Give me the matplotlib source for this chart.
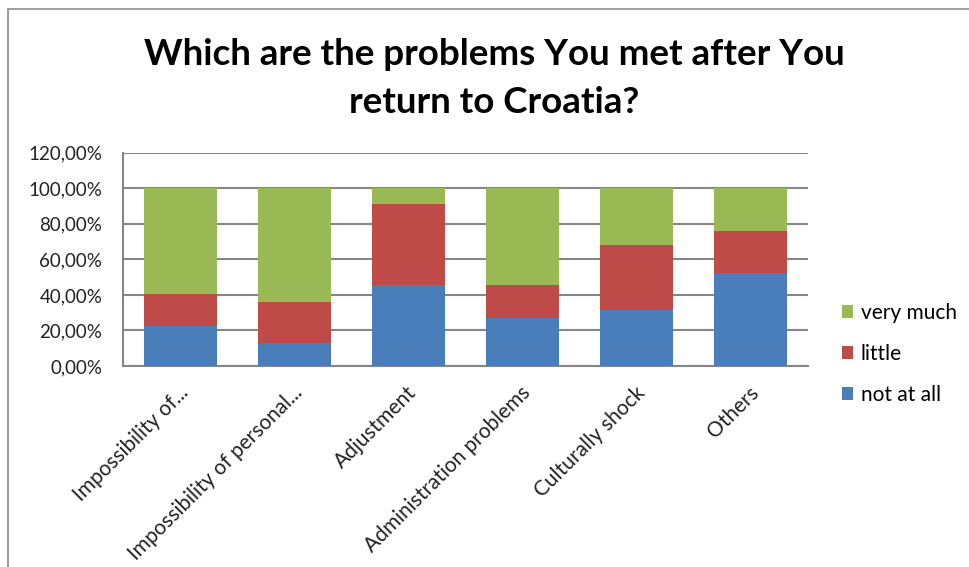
import numpy as np
import matplotlib.pyplot as plt
from matplotlib.patches import Rectangle
from matplotlib.ticker import FuncFormatter
from matplotlib.transforms import ScaledTranslation

# survey answers, share of respondents per problem
categories = ["Impossibility of...", "Impossibility of personal...", "Adjustment",
              "Administration problems", "Culturally shock", "Others"]
not_at_all = [22.3, 13.1, 45.4, 27.2, 31.5, 52.2]
little = [18.2, 23.1, 45.6, 18.2, 36.4, 23.6]
very_much = [59.5, 63.8, 9.0, 54.6, 32.1, 24.2]

series_names = ["not at all", "little", "very much"]
colors = ["#4A7EBB", "#BE4B48", "#98B954"]

plt.rcParams['font.family'] = ['Lato', 'DejaVu Sans']

W, H = 969, 567
fig = plt.figure(figsize=(W / 100, H / 100), dpi=100)
fig.patch.set_facecolor("white")

# chart frame
fig.patches.append(Rectangle((8 / W, -0.05), 1.2, (H - 9) / H + 0.05,
                             transform=fig.transFigure, fill=False,
                             edgecolor="#8C8C8C", linewidth=1.2))

ax = fig.add_axes([123 / W, 1 - 366 / H, (808 - 123) / W, (366 - 152.7) / H])

x = np.arange(len(categories))
bottom = np.zeros(len(categories))
bars = []
for vals, name, c in zip([not_at_all, little, very_much], series_names, colors):
    b = ax.bar(x, vals, bottom=bottom, width=0.64, color=c, label=name, zorder=3)
    bars.append(b)
    bottom += np.array(vals)

ax.set_xlim(-0.5, len(categories) - 0.5)
ax.set_ylim(0, 120)
ax.set_yticks(np.arange(0, 121, 20))
ax.yaxis.set_major_formatter(FuncFormatter(lambda v, p: f"{v:.2f}%".replace(".", ",")))
ax.grid(axis="y", color="#868686", linewidth=1.5, zorder=0)
ax.tick_params(axis="both", length=0, colors="#222222")
ax.tick_params(axis="y", pad=15, labelsize=13.5)

ax.set_xticks(x)
ax.set_xticklabels(categories, rotation=45, ha="right", rotation_mode="anchor",
                   fontsize=15)
shift = ScaledTranslation(-0.02, -0.12, fig.dpi_scale_trans)
for lbl in ax.get_xticklabels():
    lbl.set_transform(lbl.get_transform() + shift)

for side in ["top", "right"]:
    ax.spines[side].set_visible(False)
for side in ["left", "bottom"]:
    ax.spines[side].set_color("#868686")
    ax.spines[side].set_linewidth(1.5)

fig.text(494 / W, 1 - 65 / H, "Which are the problems You met after You",
         ha="center", va="baseline", fontsize=26.5, fontweight="bold")
fig.text(494 / W, 1 - 113 / H, "return to Croatia?",
         ha="center", va="baseline", fontsize=26.5, fontweight="bold")

handles = [bars[2], bars[1], bars[0]]
labels = [series_names[2], series_names[1], series_names[0]]
fig.legend(handles, labels, loc="upper left", bbox_to_anchor=(842 / W, 1 - 303 / H),
           frameon=False, fontsize=15, handlelength=0.55, handleheight=0.55,
           handletextpad=0.35, labelspacing=1.0, borderaxespad=0, borderpad=0)

fig.savefig("out.png", dpi=100)
